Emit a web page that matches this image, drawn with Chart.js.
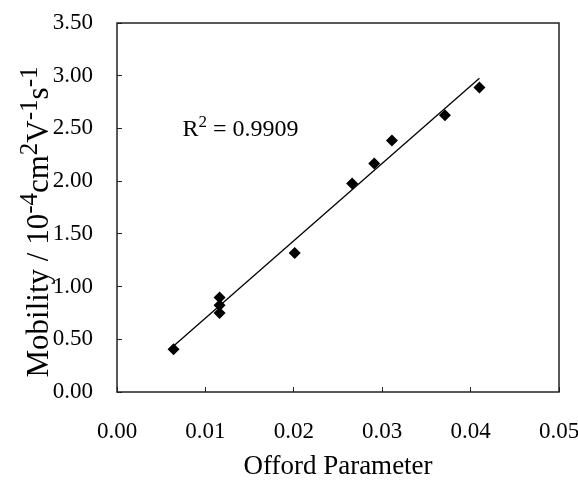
<!DOCTYPE html>
<html>
<head>
<meta charset="utf-8">
<script src="https://cdn.jsdelivr.net/npm/chart.js@4/dist/chart.umd.min.js"></script>
<style>
  html, body { margin: 0; padding: 0; background: #fff; }
  #wrap { width: 578px; height: 483px; }
</style>
</head>
<body>
<div id="wrap"><canvas id="chart" width="578" height="483"></canvas></div>
<script>
// Measured points (Offord parameter vs. mobility, 10^-4 cm2 V-1 s-1)
const offordValues   = [0.0064, 0.0116, 0.0116, 0.0116, 0.0201, 0.0266, 0.0291, 0.0311, 0.0371, 0.0410];
const mobilityValues = [0.405, 0.896, 0.823, 0.750, 1.319, 1.977, 2.167, 2.385, 2.625, 2.888];

// Linear trend line end points as drawn in the figure
const trendX = [0.0064, 0.0410];
const trendY = [0.436, 2.976];

const xTicks = [0.00, 0.01, 0.02, 0.03, 0.04, 0.05];
const yTicks = [0.00, 0.50, 1.00, 1.50, 2.00, 2.50, 3.00, 3.50];

const rSquared = "0.9909";

const SERIF = '"Liberation Serif", "Times New Roman", serif';
const INK = "#000";

/* ---------------- helpers ---------------- */
// draws a run of normal / superscript pieces, left to right from (x, y baseline)
function drawRich(ctx, parts, x, y, size, supScale) {
  let cx = x;
  parts.forEach((p) => {
    const s = p.sup ? Math.round(size * supScale) : size;
    ctx.font = s + "px " + SERIF;
    ctx.fillText(p.t, cx, p.sup ? y - size * 0.36 : y);
    cx += ctx.measureText(p.t).width;
  });
  return cx - x;
}

function richWidth(ctx, parts, size, supScale) {
  let w = 0;
  parts.forEach((p) => {
    const s = p.sup ? Math.round(size * supScale) : size;
    ctx.font = s + "px " + SERIF;
    w += ctx.measureText(p.t).width;
  });
  return w;
}

const yTitleParts = [
  { t: "Mobility / 10" }, { t: "-4", sup: true },
  { t: "cm" }, { t: "2", sup: true },
  { t: "V" }, { t: "-1", sup: true },
  { t: "s" }, { t: "-1", sup: true }
];

const rParts = [{ t: "R" }, { t: "2", sup: true }, { t: " = " + rSquared }];

/* ---------------- frame, y title and R² note ---------------- */
const decorPlugin = {
  id: "decor",
  afterDraw(chart) {
    const { ctx, chartArea: a, scales } = chart;
    ctx.save();
    ctx.strokeStyle = "#222";
    ctx.lineWidth = 1.5;
    ctx.strokeRect(a.left, a.top, a.right - a.left, a.bottom - a.top);

    ctx.fillStyle = INK;
    ctx.textBaseline = "alphabetic";
    ctx.textAlign = "left";

    // R² label, anchored in data space
    drawRich(ctx, rParts, scales.x.getPixelForValue(0.0074), scales.y.getPixelForValue(2.43), 24, 0.72);

    // rotated y axis title
    const size = 31;
    const w = richWidth(ctx, yTitleParts, size, 0.82);
    ctx.translate(48, 222);
    ctx.rotate(-Math.PI / 2);
    drawRich(ctx, yTitleParts, -w / 2, 0, size, 0.82);
    ctx.restore();
  }
};

function noOverhang(s) {
  s.paddingLeft = 0; s.paddingRight = 0; s.paddingTop = 0; s.paddingBottom = 0;
}

/* ---------------- chart ---------------- */
new Chart(document.getElementById("chart"), {
  type: "scatter",
  data: {
    datasets: [
      {
        label: "Mobility",
        data: offordValues.map((x, i) => ({ x: x, y: mobilityValues[i] })),
        pointStyle: "rectRot",
        pointRadius: 6,
        pointBackgroundColor: INK,
        pointBorderColor: INK,
        pointBorderWidth: 0,
        showLine: false
      },
      {
        label: "Linear fit",
        data: trendX.map((x, i) => ({ x: x, y: trendY[i] })),
        showLine: true,
        borderColor: INK,
        borderWidth: 1.3,
        pointRadius: 0,
        fill: false
      }
    ]
  },
  options: {
    responsive: false,
    animation: false,
    layout: { padding: { top: 23, right: 19, left: 0, bottom: 0 } },
    plugins: {
      legend: { display: false },
      tooltip: { enabled: false }
    },
    scales: {
      x: {
        type: "linear",
        min: 0,
        max: 0.05,
        afterBuildTicks: (s) => { s.ticks = xTicks.map((v) => ({ value: v })); },
        afterFit: (s) => { s.height = 91; noOverhang(s); },
        ticks: {
          color: INK,
          font: { family: SERIF, size: 23 },
          padding: 31,
          maxRotation: 0,
          callback: (v) => v.toFixed(2)
        },
        grid: { drawOnChartArea: false, drawTicks: true, tickLength: -5, color: "#222", lineWidth: 1 },
        border: { display: false },
        title: {
          display: true,
          text: "Offord Parameter",
          color: INK,
          font: { family: SERIF, size: 27 },
          padding: { top: 0, bottom: 0 }
        }
      },
      y: {
        type: "linear",
        min: 0,
        max: 3.5,
        afterBuildTicks: (s) => { s.ticks = yTicks.map((v) => ({ value: v })); },
        afterFit: (s) => { s.width = 117; noOverhang(s); },
        ticks: {
          color: INK,
          font: { family: SERIF, size: 23 },
          padding: 29,
          callback: (v) => v.toFixed(2)
        },
        grid: { drawOnChartArea: false, drawTicks: true, tickLength: -5, color: "#222", lineWidth: 1 },
        border: { display: false }
      }
    }
  },
  plugins: [decorPlugin]
});
</script>
</body>
</html>
